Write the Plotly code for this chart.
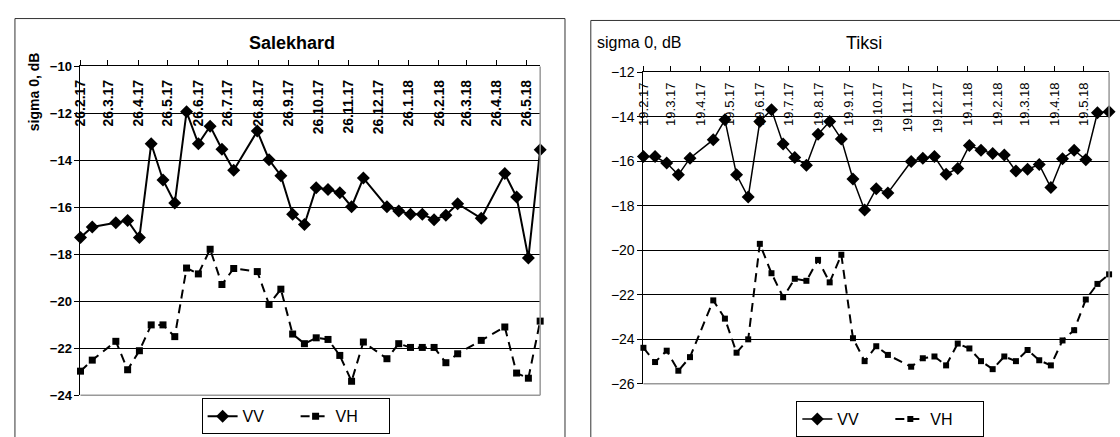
import plotly.graph_objects as go

# ---------------- Salekhard ----------------
sal_dates = ["2017-02-26", "2017-03-10", "2017-04-03", "2017-04-15", "2017-04-27",
             "2017-05-09", "2017-05-21", "2017-06-02", "2017-06-14", "2017-06-26",
             "2017-07-08", "2017-07-20", "2017-08-01", "2017-08-25", "2017-09-06",
             "2017-09-18", "2017-09-30", "2017-10-12", "2017-10-24", "2017-11-05",
             "2017-11-17", "2017-11-29", "2017-12-11", "2018-01-04", "2018-01-16",
             "2018-01-28", "2018-02-09", "2018-02-21", "2018-03-05", "2018-03-17",
             "2018-04-10", "2018-05-04", "2018-05-16", "2018-05-28", "2018-06-09"]
sal_vv = [-17.28, -16.83, -16.65, -16.56, -17.28, -13.29, -14.83, -15.81, -11.93, -13.29,
          -12.54, -13.52, -14.42, -12.75, -13.97, -14.65, -16.29, -16.73, -15.16, -15.24,
          -15.37, -15.97, -14.75, -15.97, -16.15, -16.29, -16.29, -16.52, -16.33, -15.84,
          -16.46, -14.56, -15.56, -18.15, -13.54]
sal_vh = [-22.97, -22.50, -21.70, -22.91, -22.10, -21.00, -21.00, -21.50, -18.58, -18.83,
          -17.78, -19.28, -18.60, -18.73, -20.13, -19.48, -21.39, -21.80, -21.55, -21.62,
          -22.30, -23.40, -21.73, -22.44, -21.80, -21.96, -21.96, -21.96, -22.61, -22.23,
          -21.66, -21.09, -23.05, -23.27, -20.84]
sal_tickvals = ["2017-02-26", "2017-03-26", "2017-04-26", "2017-05-26", "2017-06-26",
                "2017-07-26", "2017-08-26", "2017-09-26", "2017-10-26", "2017-11-26",
                "2017-12-26", "2018-01-26", "2018-02-26", "2018-03-26", "2018-04-26",
                "2018-05-26"]
sal_ticktext = ["26.2.17", "26.3.17", "26.4.17", "26.5.17", "26.6.17", "26.7.17", "26.8.17",
                "26.9.17", "26.10.17", "26.11.17", "26.12.17", "26.1.18", "26.2.18",
                "26.3.18", "26.4.18", "26.5.18"]

# ---------------- Tiksi ----------------
tik_dates = ["2017-02-19", "2017-03-03", "2017-03-15", "2017-03-27", "2017-04-08",
             "2017-05-02", "2017-05-14", "2017-05-26", "2017-06-07", "2017-06-19",
             "2017-07-01", "2017-07-13", "2017-07-25", "2017-08-06", "2017-08-18",
             "2017-08-30", "2017-09-11", "2017-09-23", "2017-10-05", "2017-10-17",
             "2017-10-29", "2017-11-22", "2017-12-04", "2017-12-16", "2017-12-28",
             "2018-01-09", "2018-01-21", "2018-02-02", "2018-02-14", "2018-02-26",
             "2018-03-10", "2018-03-22", "2018-04-03", "2018-04-15", "2018-04-27",
             "2018-05-09", "2018-05-21", "2018-06-02", "2018-06-14"]
tik_vv = [-15.79, -15.79, -16.08, -16.61, -15.86, -15.03, -14.14, -16.61, -17.61, -14.21,
          -13.68, -15.22, -15.83, -16.18, -14.79, -14.21, -15.00, -16.80, -18.19, -17.23,
          -17.42, -16.01, -15.86, -15.79, -16.58, -16.32, -15.29, -15.50, -15.65, -15.72,
          -16.44, -16.36, -16.15, -17.18, -15.89, -15.50, -15.93, -13.82, -13.78]
tik_vh = [-24.38, -25.02, -24.51, -25.41, -24.80, -22.25, -23.07, -24.60, -24.00, -19.71,
          -21.03, -22.11, -21.28, -21.37, -20.43, -21.44, -20.20, -23.95, -24.98, -24.31,
          -24.70, -25.23, -24.85, -24.77, -25.17, -24.19, -24.41, -24.98, -25.34, -24.77,
          -24.98, -24.48, -24.94, -25.17, -24.05, -23.59, -22.21, -21.51, -21.08]
tik_tickvals = ["2017-02-19", "2017-03-19", "2017-04-19", "2017-05-19", "2017-06-19",
                "2017-07-19", "2017-08-19", "2017-09-19", "2017-10-19", "2017-11-19",
                "2017-12-19", "2018-01-19", "2018-02-19", "2018-03-19", "2018-04-19",
                "2018-05-19"]
tik_ticktext = ["19.2.17", "19.3.17", "19.4.17", "19.5.17", "19.6.17", "19.7.17", "19.8.17",
                "19.9.17", "19.10.17", "19.11.17", "19.12.17", "19.1.18", "19.2.18",
                "19.3.18", "19.4.18", "19.5.18"]

W, H = 1120, 437
FONT = "Liberation Sans, Arial, sans-serif"


def px(v):
    return v / W


def py(v):
    return (H - v) / H


fig = go.Figure()

# Salekhard traces
fig.add_trace(go.Scatter(x=sal_dates, y=sal_vv, name="VV", mode="lines+markers",
                         line=dict(color="black", width=2),
                         marker=dict(symbol="diamond", size=10, color="black"),
                         xaxis="x", yaxis="y", legend="legend", cliponaxis=False))
fig.add_trace(go.Scatter(x=sal_dates, y=sal_vh, name="VH", mode="lines+markers",
                         line=dict(color="black", width=2, dash="9px,6px"),
                         marker=dict(symbol="square", size=7, color="black"),
                         xaxis="x", yaxis="y", legend="legend", cliponaxis=False))
# Tiksi traces
fig.add_trace(go.Scatter(x=tik_dates, y=tik_vv, name="VV", mode="lines+markers",
                         line=dict(color="black", width=1.5),
                         marker=dict(symbol="diamond", size=10, color="black"),
                         xaxis="x2", yaxis="y2", legend="legend2", cliponaxis=False))
fig.add_trace(go.Scatter(x=tik_dates, y=tik_vh, name="VH", mode="lines+markers",
                         line=dict(color="black", width=2, dash="9px,6px"),
                         marker=dict(symbol="square", size=6, color="black"),
                         xaxis="x2", yaxis="y2", legend="legend2", cliponaxis=False))
# invisible carriers for the label-only overlay axes
fig.add_trace(go.Scatter(x=[sal_dates[0]], y=[None], xaxis="x3", yaxis="y",
                         showlegend=False, hoverinfo="skip", mode="markers"))
fig.add_trace(go.Scatter(x=[tik_dates[0]], y=[None], xaxis="x4", yaxis="y2",
                         showlegend=False, hoverinfo="skip", mode="markers"))

xcommon = dict(type="date", side="top", showgrid=False, showline=True, linecolor="black",
               linewidth=1, ticks="outside", ticklen=5, tickcolor="black",
               showticklabels=False, zeroline=False)
xlab = dict(type="date", side="bottom", anchor="free", showgrid=False, showline=False,
            ticks="", tickangle=-90, zeroline=False)
ycommon = dict(showgrid=True, gridcolor="black", gridwidth=1, showline=True,
               linecolor="black", linewidth=1, ticks="outside", ticklen=5,
               tickcolor="black", dtick=2, zeroline=False)

fig.update_layout(
    width=W, height=H, margin=dict(l=0, r=0, t=0, b=0),
    paper_bgcolor="white", plot_bgcolor="white",
    font=dict(family=FONT, color="black"),
    xaxis=dict(**xcommon, domain=[px(73), px(536)], anchor="y",
               range=[sal_dates[0], sal_dates[-1]], tickvals=sal_tickvals),
    xaxis3=dict(**xlab, overlaying="x", matches="x", position=py(71),
                tickvals=sal_tickvals, ticktext=sal_ticktext,
                tickfont=dict(size=14, weight="bold")),
    yaxis=dict(**ycommon, domain=[py(404), py(61)], anchor="x",
               range=[-24, -10], tickfont=dict(size=13, weight="bold")),
    xaxis2=dict(**xcommon, domain=[px(640), px(1109)], anchor="y2",
                range=[tik_dates[0], tik_dates[-1]], tickvals=tik_tickvals),
    xaxis4=dict(**xlab, overlaying="x2", matches="x2", position=py(74),
                tickvals=tik_tickvals, ticktext=tik_ticktext,
                tickfont=dict(size=13)),
    yaxis2=dict(**ycommon, domain=[py(392), py(67)], anchor="x2",
                range=[-26, -12], tickfont=dict(size=14)),
    legend=dict(orientation="h", x=px(195), y=py(407), xanchor="left", yanchor="top",
                bordercolor="black", borderwidth=1, bgcolor="white",
                font=dict(size=16), entrywidth=48, tracegroupgap=0),
    legend2=dict(orientation="h", x=px(794), y=py(410), xanchor="left", yanchor="top",
                 bordercolor="black", borderwidth=1, bgcolor="white",
                 font=dict(size=16), entrywidth=48, tracegroupgap=0),
    showlegend=True,
)

shapes = [
    # outer chart frames
    dict(type="rect", xref="paper", yref="paper", x0=px(7), x1=px(561), y0=-0.05, y1=py(11),
         line=dict(color="#333", width=1), layer="below"),
    dict(type="rect", xref="paper", yref="paper", x0=px(587), x1=1.01, y0=-0.05, y1=py(13),
         line=dict(color="#333", width=1), layer="below"),
    # grey plot area borders (right & bottom)
    dict(type="line", xref="x domain", yref="y domain", x0=1, x1=1, y0=0, y1=1,
         line=dict(color="#999", width=1.5)),
    dict(type="line", xref="x domain", yref="y domain", x0=0, x1=1, y0=0, y1=0,
         line=dict(color="#999", width=1.5)),
    dict(type="line", xref="x2 domain", yref="y2 domain", x0=1, x1=1, y0=0, y1=1,
         line=dict(color="#999", width=1.5)),
    dict(type="line", xref="x2 domain", yref="y2 domain", x0=0, x1=1, y0=0, y1=0,
         line=dict(color="#999", width=1.5)),
]
fig.update_layout(shapes=shapes)

annotations = [
    dict(text="<b>Salekhard</b>", x=px(286), y=py(36), xref="paper", yref="paper",
         showarrow=False, font=dict(size=18), xanchor="center", yanchor="middle"),
    dict(text="<b>sigma 0, dB</b>", x=px(27), y=py(87), xref="paper", yref="paper",
         showarrow=False, font=dict(size=14), textangle=-90, xanchor="center",
         yanchor="middle"),
    dict(text="Tiksi", x=px(862), y=py(36), xref="paper", yref="paper",
         showarrow=False, font=dict(size=18), xanchor="center", yanchor="middle"),
    dict(text="sigma 0, dB", x=px(591), y=py(36), xref="paper", yref="paper",
         showarrow=False, font=dict(size=16), xanchor="left", yanchor="middle"),
]
fig.update_layout(annotations=annotations)

fig.write_html("out.html")
